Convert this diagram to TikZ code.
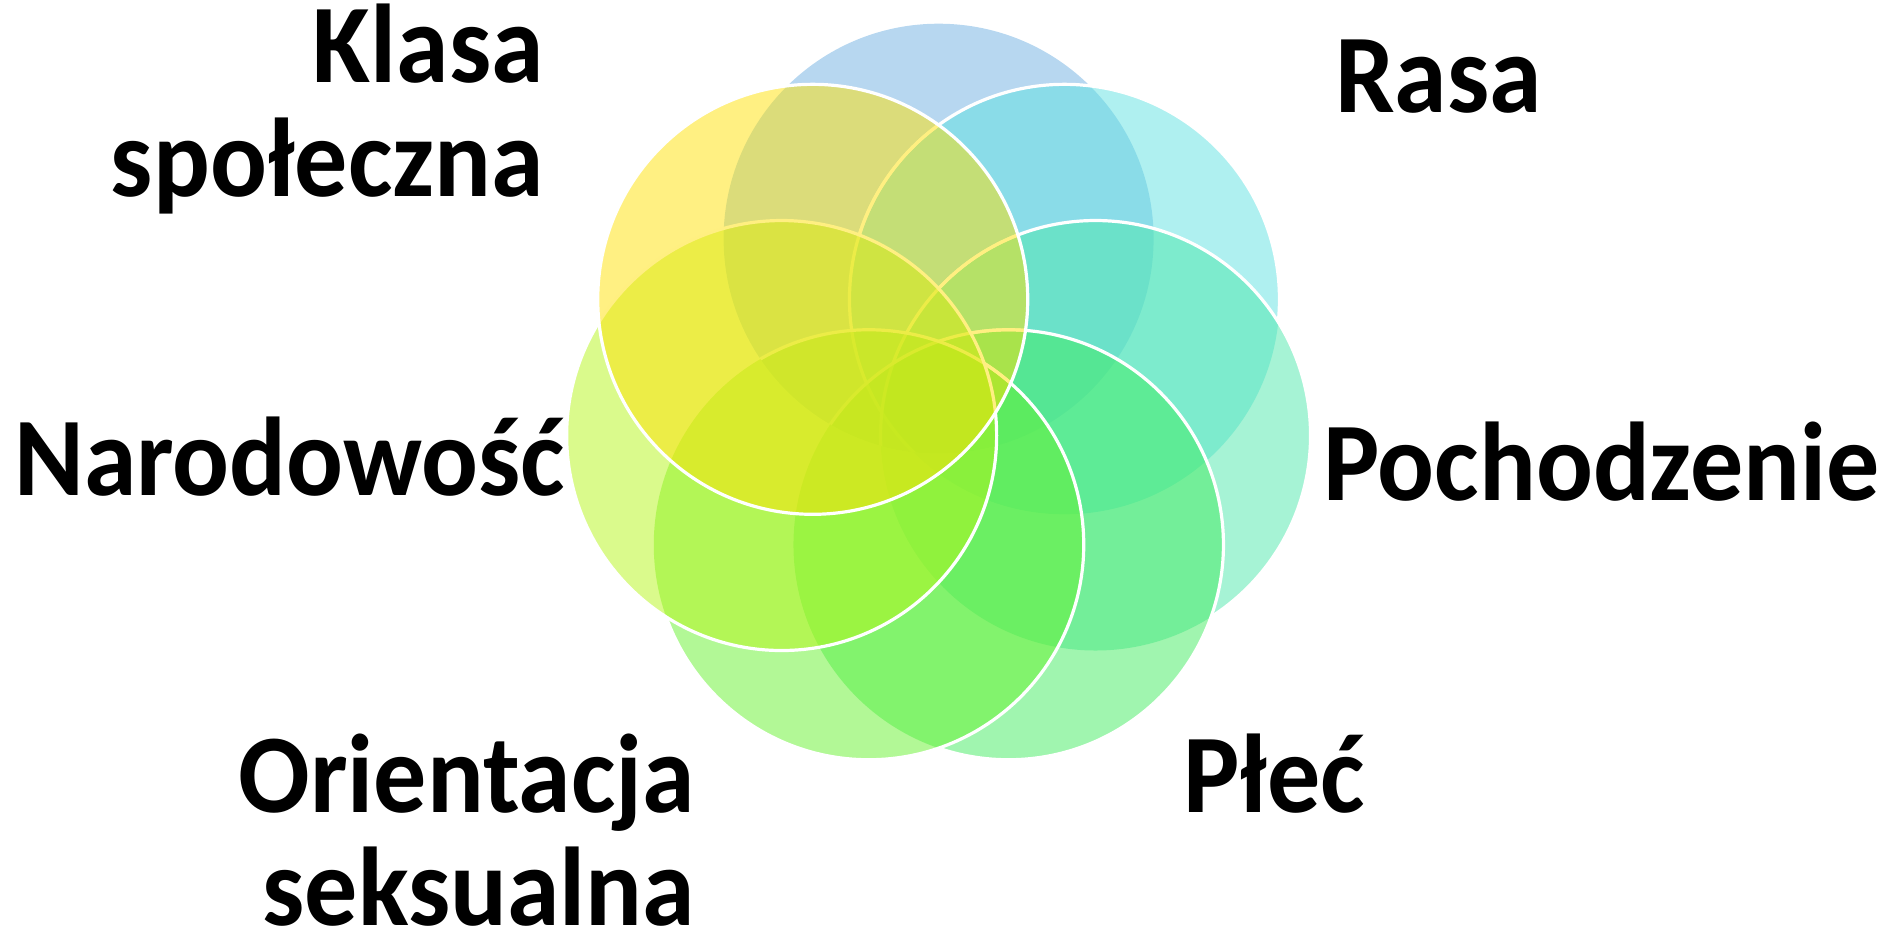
\documentclass[tikz,border=0pt]{standalone}
\usepackage{fontspec}
\setmainfont{Carlito}[FakeStretch=0.946]
\begin{document}
\begin{tikzpicture}[x=1pt,y=-1pt,
  lbl/.style={font=\fontsize{112}{118}\selectfont\bfseries, inner sep=0pt, text=black},
  petal/.style={fill=#1, fill opacity=0.5, draw=none},
  rim/.style={draw=white, line width=3.2pt}]
\definecolor{cA}{RGB}{111,175,225}
\definecolor{cB}{RGB}{95,225,225}
\definecolor{cC}{RGB}{77,231,171}
\definecolor{cD}{RGB}{65,235,95}
\definecolor{cE}{RGB}{101,241,45}
\definecolor{cF}{RGB}{181,245,25}
\definecolor{cG}{RGB}{255,225,5}
\def\pr{215pt}
\useasboundingbox (0,0) rectangle (1899,933);
\foreach \k in {1,...,7}{
  \coordinate (c\k) at ({938.6+161*cos(90-(\k-1)*360/7)},{399.7-161*sin(90-(\k-1)*360/7)});
}
% 1 blue
\fill[petal=cA] (c1) circle (\pr);
% 2 cyan
\fill[petal=cB] (c2) circle (\pr);
\begin{scope}[even odd rule]
  \clip (-100,-100) rectangle (2100,1100) (c3) circle (\pr);
  \clip (-100,-100) rectangle (2100,1100) (c4) circle (\pr);
  \clip (-100,-100) rectangle (2100,1100) (c5) circle (\pr);
  \clip (-100,-100) rectangle (2100,1100) (c6) circle (\pr);
  \draw[rim] (c2) circle (\pr);
\end{scope}
\begin{scope}
  \clip (c1) circle (\pr); \clip (c7) circle (\pr);
  \draw[rim] (c2) circle (\pr);
\end{scope}
% 3 teal
\fill[petal=cC] (c3) circle (\pr);
\begin{scope}[even odd rule]
  \clip (-100,-100) rectangle (2100,1100) (c4) circle (\pr);
  \clip (-100,-100) rectangle (2100,1100) (c5) circle (\pr);
  \clip (-100,-100) rectangle (2100,1100) (c6) circle (\pr);
  \draw[rim] (c3) circle (\pr);
\end{scope}
\begin{scope}
  \clip (c1) circle (\pr); \clip (c7) circle (\pr);
  \draw[rim] (c3) circle (\pr);
\end{scope}
% 4 green
\fill[petal=cD] (c4) circle (\pr);
\begin{scope}[even odd rule]
  \clip (-100,-100) rectangle (2100,1100) (c5) circle (\pr);
  \clip (-100,-100) rectangle (2100,1100) (c6) circle (\pr);
  \draw[rim] (c4) circle (\pr);
\end{scope}
\begin{scope}
  \clip (c1) circle (\pr); \clip (c7) circle (\pr);
  \draw[rim] (c4) circle (\pr);
\end{scope}
% 5 light green
\fill[petal=cE] (c5) circle (\pr);
\begin{scope}[even odd rule]
  \clip (-100,-100) rectangle (2100,1100) (c6) circle (\pr);
  \draw[rim] (c5) circle (\pr);
\end{scope}
\begin{scope}
  \clip (c1) circle (\pr); \clip (c7) circle (\pr);
  \draw[rim] (c5) circle (\pr);
\end{scope}
% 6 yellow green
\fill[petal=cF] (c6) circle (\pr);
\draw[rim] (c6) circle (\pr);
% 7 yellow
\fill[petal=cG] (c7) circle (\pr);
\draw[rim] (c7) circle (\pr);
% labels
\node[lbl, anchor=base east] (kl1) at (544,83) {Klasa};
\node[lbl, anchor=base east] (kl2) at (544,197) {społeczna};
\node[lbl, anchor=base west] (rasa) at (1335,113) {Rasa};
\node[lbl, anchor=base west] (nar) at (14,495) {Narodowość};
\node[lbl, anchor=base west] (poch) at (1323,500) {Pochodzenie};
\node[lbl, anchor=base east] (or1) at (695,812) {Orientacja};
\node[lbl, anchor=base east] (or2) at (695,925) {seksualna};
\node[lbl, anchor=base west] (plec) at (1183,812) {Płeć};
\end{tikzpicture}
\end{document}
